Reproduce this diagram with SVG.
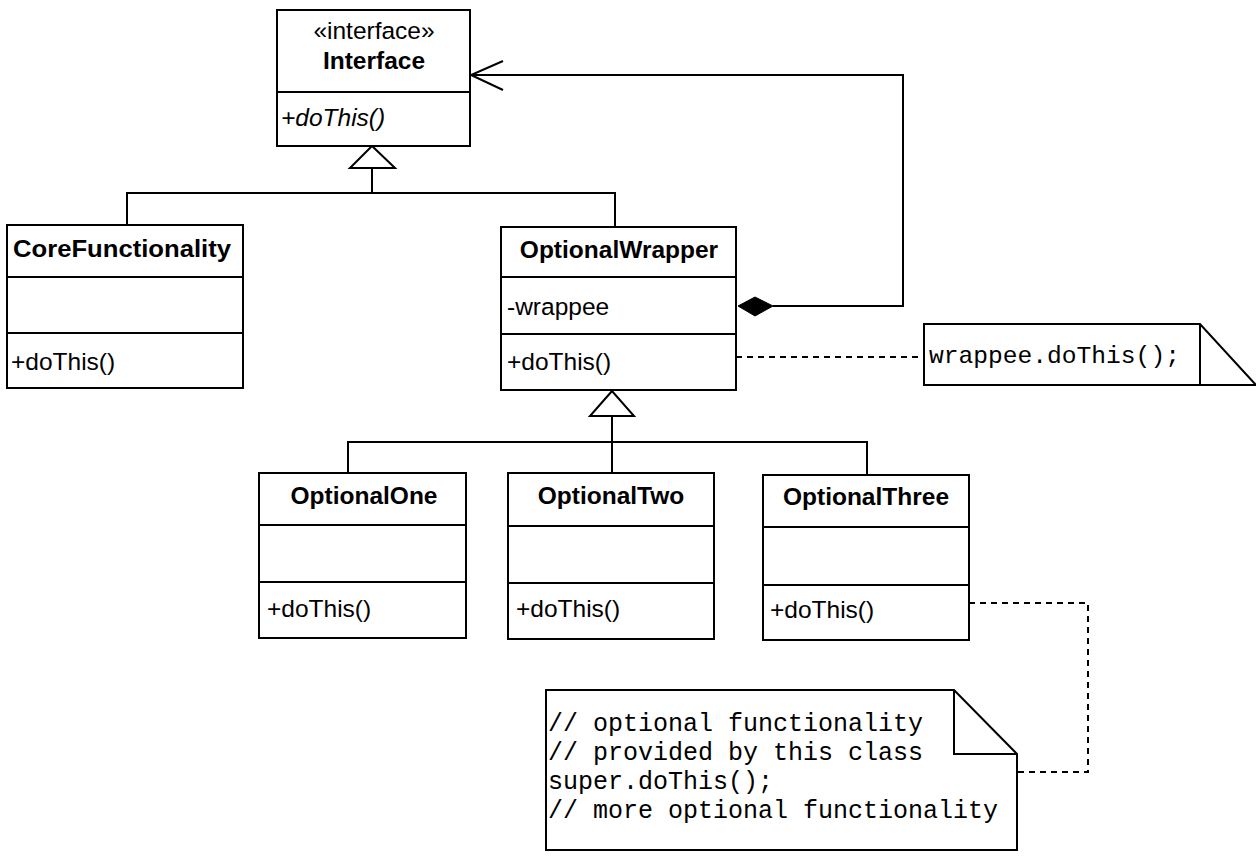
<svg xmlns="http://www.w3.org/2000/svg" width="1256" height="858" viewBox="0 0 1256 858">
  <style>
    .box { fill: #ffffff; stroke: #000000; stroke-width: 2; }
    .sep { stroke: #000000; stroke-width: 2; fill: none; }
    .line { stroke: #000000; stroke-width: 2; fill: none; }
    .dash { stroke: #000000; stroke-width: 2; fill: none; stroke-dasharray: 6 5; }
    .tri { fill: #ffffff; stroke: #000000; stroke-width: 2; }
    .name { font-family: "Liberation Sans", Arial, sans-serif; font-size: 24.5px; font-weight: bold; fill: #000000; }
    .txt { font-family: "Liberation Sans", Arial, sans-serif; font-size: 24.5px; fill: #000000; }
    .abs { font-family: "Liberation Sans", Arial, sans-serif; font-size: 24.5px; font-style: italic; fill: #000000; }
    .code { font-family: "Liberation Mono", "Courier New", monospace; font-size: 24.6px; fill: #000000; }
    .code25 { font-family: "Liberation Mono", "Courier New", monospace; font-size: 25px; fill: #000000; }
  </style>

  <rect width="1256" height="858" fill="#ffffff"/>

  <!-- connectors -->
  <g id="connectors">
    <!-- generalization: CoreFunctionality / OptionalWrapper -> Interface -->
    <path class="line" d="M372,168 V193 M127,225 V193 H615 V227"/>
    <polygon class="tri" points="372,146 350,168 395,168"/>
    <!-- generalization: OptionalOne/Two/Three -> OptionalWrapper -->
    <path class="line" d="M612,416 V473 M348,473 V442 H867 V475"/>
    <polygon class="tri" points="612,391 590,416 634,416"/>
    <!-- composition: OptionalWrapper.wrappee -> Interface -->
    <path class="line" d="M773,306 H903 V75 H471"/>
    <path class="line" d="M503,61 L471,75 L503,90"/>
    <polygon points="738,306 755,297 773,306 755,316" fill="#000000" stroke="#000000" stroke-width="1"/>
    <!-- note anchors -->
    <path class="dash" d="M736,357 H924"/>
    <path class="dash" d="M969,603 H1088 V772 H1017"/>
  </g>

  <!-- Interface -->
  <g id="interface">
    <rect class="box" x="277" y="10" width="193" height="136"/>
    <line class="sep" x1="277" y1="92" x2="470" y2="92"/>
    <text class="txt" x="374" y="39" text-anchor="middle">«interface»</text>
    <text class="name" x="374" y="69" text-anchor="middle">Interface</text>
    <text class="abs" x="281" y="126">+doThis()</text>
  </g>

  <!-- CoreFunctionality -->
  <g id="core-functionality">
    <rect class="box" x="7" y="225" width="236" height="163"/>
    <line class="sep" x1="7" y1="277" x2="243" y2="277"/>
    <line class="sep" x1="7" y1="333" x2="243" y2="333"/>
    <text class="name" x="13" y="257" textLength="218" lengthAdjust="spacingAndGlyphs">CoreFunctionality</text>
    <text class="txt" x="11" y="370">+doThis()</text>
  </g>

  <!-- OptionalWrapper -->
  <g id="optional-wrapper">
    <rect class="box" x="501" y="227" width="235" height="163"/>
    <line class="sep" x1="501" y1="277" x2="736" y2="277"/>
    <line class="sep" x1="501" y1="334" x2="736" y2="334"/>
    <text class="name" x="619" y="258" text-anchor="middle">OptionalWrapper</text>
    <text class="txt" x="507" y="315">-wrappee</text>
    <text class="txt" x="507" y="370">+doThis()</text>
  </g>

  <!-- OptionalOne -->
  <g id="optional-one">
    <rect class="box" x="259" y="473" width="207" height="165"/>
    <line class="sep" x1="259" y1="525" x2="466" y2="525"/>
    <line class="sep" x1="259" y1="582" x2="466" y2="582"/>
    <text class="name" x="364" y="504" text-anchor="middle">OptionalOne</text>
    <text class="txt" x="267" y="617">+doThis()</text>
  </g>

  <!-- OptionalTwo -->
  <g id="optional-two">
    <rect class="box" x="508" y="473" width="206" height="166"/>
    <line class="sep" x1="508" y1="526" x2="714" y2="526"/>
    <line class="sep" x1="508" y1="583" x2="714" y2="583"/>
    <text class="name" x="611" y="504" text-anchor="middle">OptionalTwo</text>
    <text class="txt" x="516" y="617">+doThis()</text>
  </g>

  <!-- OptionalThree -->
  <g id="optional-three">
    <rect class="box" x="763" y="475" width="206" height="165"/>
    <line class="sep" x1="763" y1="527" x2="969" y2="527"/>
    <line class="sep" x1="763" y1="585" x2="969" y2="585"/>
    <text class="name" x="866" y="505" text-anchor="middle">OptionalThree</text>
    <text class="txt" x="770" y="618">+doThis()</text>
  </g>

  <!-- note on OptionalWrapper.doThis -->
  <g id="note-wrapper">
    <path class="box" d="M924,324 H1200 L1256,385 H924 Z"/>
    <line class="sep" x1="1200" y1="324" x2="1200" y2="385"/>
    <text class="code" x="929" y="363">wrappee.doThis();</text>
  </g>

  <!-- note on OptionalThree.doThis -->
  <g id="note-optional">
    <path class="box" d="M546,690 H954 L1017,754 V850 H546 Z"/>
    <path class="sep" d="M954,690 V754 H1017"/>
    <text class="code25" x="548" y="731">// optional functionality</text>
    <text class="code25" x="548" y="760">// provided by this class</text>
    <text class="code25" x="548" y="789">super.doThis();</text>
    <text class="code25" x="548" y="818">// more optional functionality</text>
  </g>
</svg>
